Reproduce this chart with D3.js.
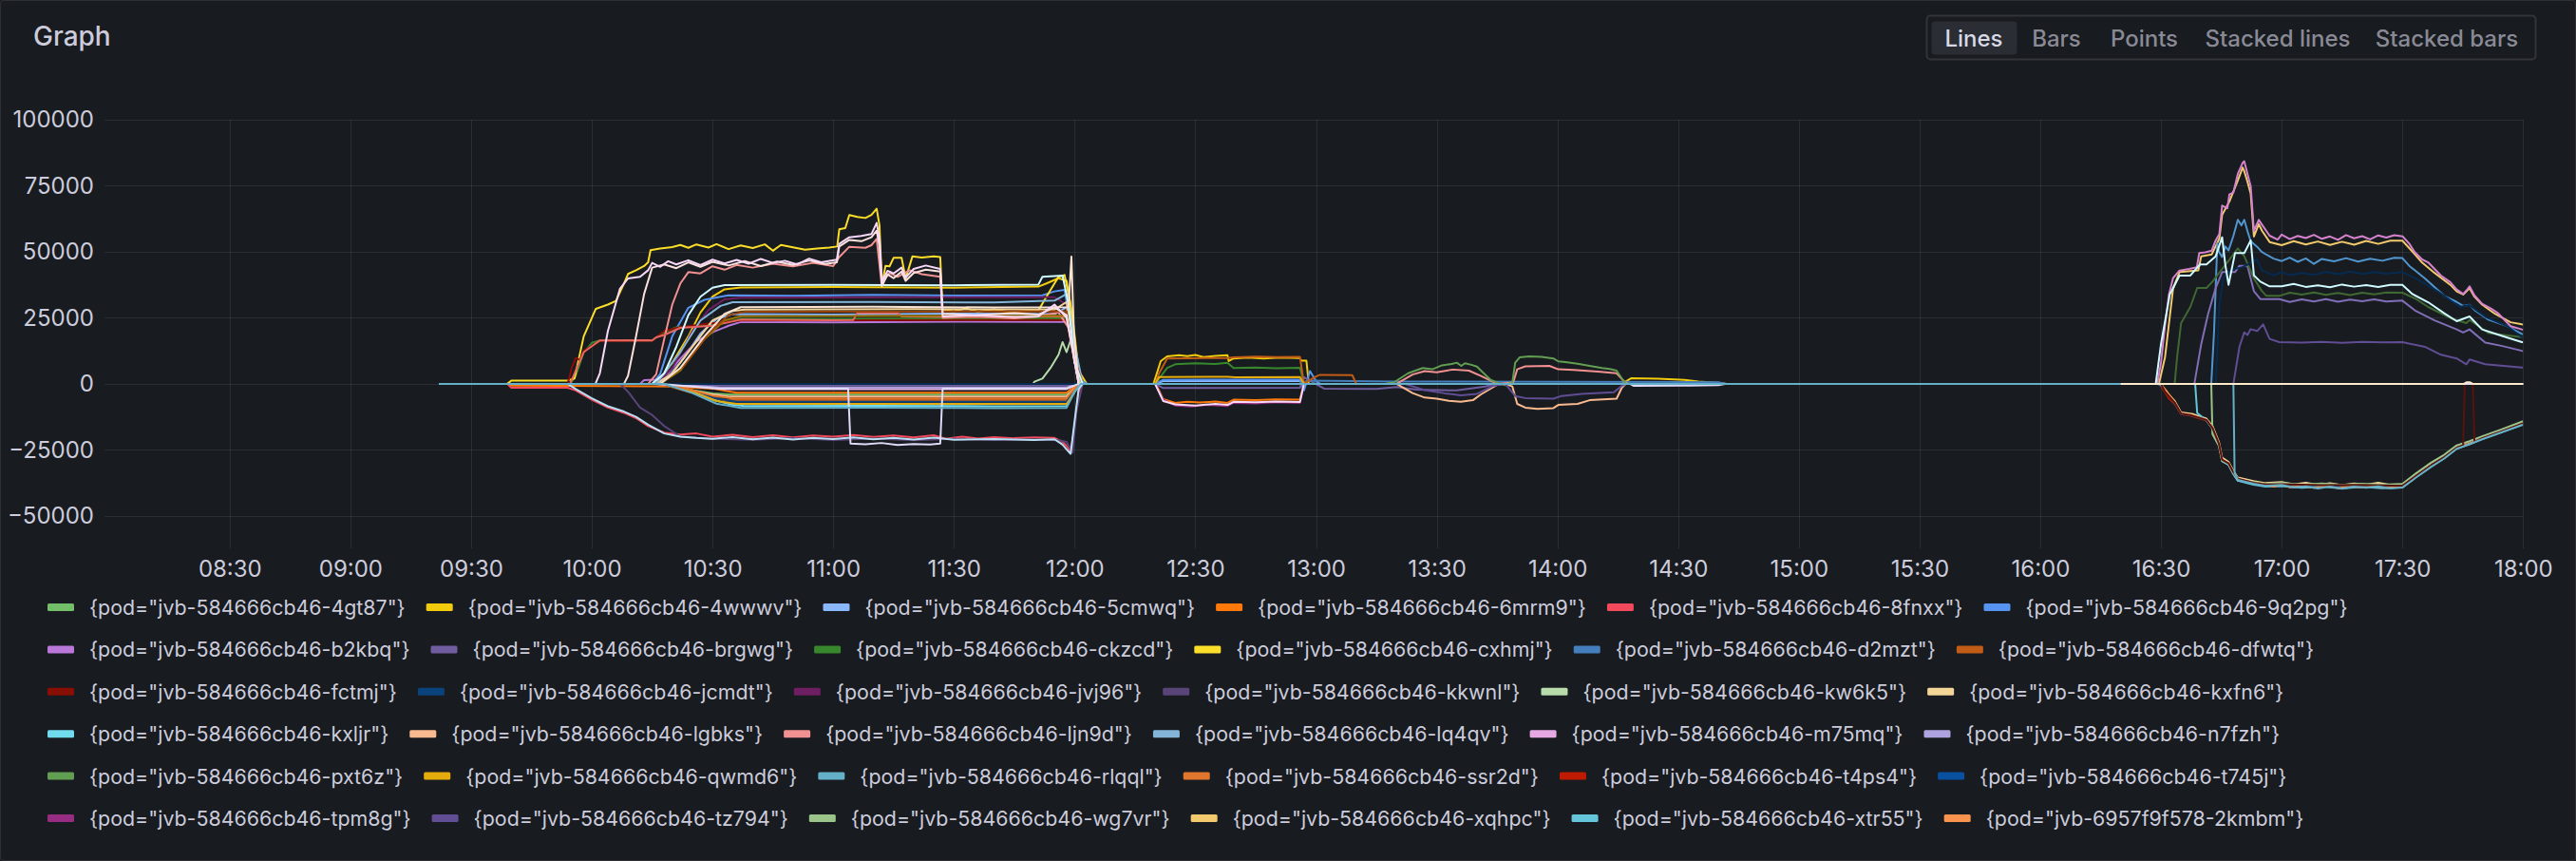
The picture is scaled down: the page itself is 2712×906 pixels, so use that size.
<!DOCTYPE html>
<html><head><meta charset="utf-8">
<script src="https://cdn.jsdelivr.net/npm/d3@7/dist/d3.min.js"></script>
<style>
html,body{margin:0;padding:0;background:#181b1f;overflow:hidden;}
svg{display:block;font-family:Inter,"Noto Sans",sans-serif;}
</style></head><body>
<svg id="chart" width="2712" height="906"></svg>
<script>
// ---------- labels / ticks ----------
const panelTitle = "Graph";
const viewModes = ["Lines","Bars","Points","Stacked lines","Stacked bars"];
const xTickLabels = ["08:30","09:00","09:30","10:00","10:30","11:00","11:30","12:00","12:30","13:00","13:30","14:00","14:30","15:00","15:30","16:00","16:30","17:00","17:30","18:00"];
const yTickValues = [-50000,-25000,0,25000,50000,75000,100000];
const timeDomain = ["7:59","18:00"];
const valueDomain = [-62300,100000];

const legendPods = ["jvb-584666cb46-4gt87","jvb-584666cb46-4wwwv","jvb-584666cb46-5cmwq","jvb-584666cb46-6mrm9","jvb-584666cb46-8fnxx","jvb-584666cb46-9q2pg",
"jvb-584666cb46-b2kbq","jvb-584666cb46-brgwg","jvb-584666cb46-ckzcd","jvb-584666cb46-cxhmj","jvb-584666cb46-d2mzt","jvb-584666cb46-dfwtq",
"jvb-584666cb46-fctmj","jvb-584666cb46-jcmdt","jvb-584666cb46-jvj96","jvb-584666cb46-kkwnl","jvb-584666cb46-kw6k5","jvb-584666cb46-kxfn6",
"jvb-584666cb46-kxljr","jvb-584666cb46-lgbks","jvb-584666cb46-ljn9d","jvb-584666cb46-lq4qv","jvb-584666cb46-m75mq","jvb-584666cb46-n7fzh",
"jvb-584666cb46-pxt6z","jvb-584666cb46-qwmd6","jvb-584666cb46-rlqql","jvb-584666cb46-ssr2d","jvb-584666cb46-t4ps4","jvb-584666cb46-t745j",
"jvb-584666cb46-tpm8g","jvb-584666cb46-tz794","jvb-584666cb46-wg7vr","jvb-584666cb46-xqhpc","jvb-584666cb46-xtr55","jvb-6957f9f578-2kmbm"];

// ---------- style palette (Grafana classic) ----------
const palette = ["#73BF69","#F2CC0C","#8AB8FF","#FF780A","#F2495C","#5794F2","#B877D9","#705DA0","#37872D","#FADE2A","#447EBC","#C15C17",
"#890F02","#0A437C","#6D1F62","#584477","#B7DBAB","#F4D598","#70DBED","#F9BA8F","#F29191","#82B5D8","#E5A8E2","#AEA2E0",
"#629E51","#E5AC0E","#64B0C8","#E0752D","#BF1B00","#0A50A1","#962D82","#614D93","#9AC48A","#F2C96D","#65C5DB","#F9934E",
"#EA6460","#5195CE","#D683CE","#806EB7","#3F6833","#967302","#2F575E","#99440A","#58140C","#052B51","#511749","#3F2B5B",
"#E0F9D7","#FCEACA","#CFFAFF","#F9E2D2","#FCE2DE","#BADFF4","#F9D9F9","#DEDAF7"];

// ---------- series values: [time, value] ----------
const pod_4gt87 = [["9:22",0],["10:16",0],["10:20",-900],["10:25",-2400],["10:30",-3600],["10:35",-4100],["11:58",-4100],["11:59.5",-2500],["12:01",0],["18:00",0]];
const pod_4wwwv = [["9:22",0],["10:16",0],["10:20",8000],["10:24",18000],["10:27",27000],["10:30",33000],["10:33",35800],["10:37",36500],["11:00",36700],["11:30",36400],["11:51",36800],["11:53",38000],["11:56",40000],["11:58",39000],["11:59.5",25000],["12:01",5000],["12:03",0],["12:19.6",0],["12:21.4",8600],["12:23",10400],["12:26",10800],["12:28",10500],["12:30",10900],["12:32",10100],["12:35",10600],["12:38",10800],["12:38.3",8600],["12:39.5",9600],["12:43",9900],["12:47",9600],["12:51",9900],["12:55.8",9800],["12:56.4",8800],["12:57.6",8800],["12:58.2",0],["14:16",0],["14:18.3",2100],["14:25",1900],["14:31.6",1500],["14:35",900],["14:40.6",300],["14:42",0],["18:00",0]];
const pod_5cmwq = [["9:22",0],["10:16",0],["10:19",2500],["10:23",10000],["10:27",19000],["10:31",24500],["10:35",26400],["11:00",26200],["11:30",26600],["11:55",26400],["11:58",29000],["12:00",9000],["12:02",0],["12:20",0],["12:22",1000],["12:56",1100],["12:57",0],["18:00",0]];
const pod_6mrm9 = [["9:22",0],["9:39",0],["9:40",-700],["10:15",-900],["10:20",-1000],["10:30",-1800],["10:36",-3400],["11:58",-3400],["11:59.5",-1500],["12:01",0],["12:20",0],["12:21",-2500],["12:22",-5800],["12:25",-7200],["12:28",-6800],["12:31",-7100],["12:35",-6700],["12:38",-7200],["12:39.5",-6000],["12:45",-6200],["12:50",-5900],["12:56",-6000],["12:57",0],["18:00",0]];
const pod_8fnxx = [["9:22",0],["9:39",0],["9:40",-1500],["9:54",-1500],["9:56",-2500],["10:00",-6000],["10:04",-9000],["10:08",-11000],["10:11",-13000],["10:14",-16000],["10:18",-18500],["10:22",-19200],["10:26",-18800],["10:30",-20000],["10:35",-19300],["10:40",-20200],["10:45",-19500],["10:50",-20300],["10:55",-19600],["11:00",-20000],["11:05",-19400],["11:10",-20100],["11:15",-19600],["11:20",-20300],["11:25",-19500],["11:28",-20800],["11:32",-20000],["11:36",-20700],["11:40",-20200],["11:45",-20600],["11:50",-20300],["11:55",-20500],["11:57",-22000],["11:58",-23500],["11:59",-25800],["12:00",-16000],["12:01",-3000],["12:02",0],["18:00",0]];
const pod_9q2pg = [["9:22",0],["10:15",0],["10:17",3800],["10:20",18000],["10:24",28800],["10:28",31800],["10:32",33000],["10:34",33500],["10:50",33300],["11:10",33700],["11:30",33400],["11:52",33500],["11:55",35000],["11:57.5",35600],["11:59",22000],["12:01",2000],["12:03",0],["12:20",0],["12:22",1500],["12:56",1600],["12:57",-2500],["12:58.5",4800],["13:00",1000],["13:01",0],["18:00",0]];
const pod_b2kbq = [["9:22",0],["10:12",0],["10:13",1400],["10:16",1600],["10:19",4000],["10:22",9500],["10:26",16000],["10:30",19500],["10:34",22000],["10:37",23400],["11:00",23300],["11:30",23500],["11:58",23400],["11:59",21000],["12:01",0],["18:00",0]];
const pod_brgwg = [["9:22",0],["10:16",0],["10:25",-600],["11:58",-600],["12:01",0],["12:20",0],["12:22",-1600],["12:56",-1500],["12:57",2500],["12:58.5",1200],["13:02",-1800],["13:15",-1900],["13:20",-1200],["13:25",-2200],["13:35",-2500],["13:42",-1000],["13:45",0],["18:00",0]];
const pod_ckzcd = [["9:22",0],["9:54.6",0],["9:56",3000],["9:58",12000],["10:00",15500],["10:02",16400],["10:15",16400],["10:16",17600],["10:18",19500],["10:21",21400],["10:25",21800],["10:30",22200],["10:37",24600],["11:00",24500],["11:30",24800],["11:58",24800],["12:00",10000],["12:02",0],["12:20",0],["12:23",6000],["12:25",7400],["12:30",7800],["12:35",7500],["12:38",8000],["12:39.5",6000],["12:45",6200],["12:50",5900],["12:56",6100],["12:57",0],["18:00",0]];
const pod_cxhmj = [["9:22",0],["9:39",0],["9:40",1200],["9:54",1200],["9:55.7",2000],["9:58",18000],["10:01",28400],["10:04",30000],["10:06",31400],["10:08",38000],["10:09",41600],["10:11",43000],["10:13",44600],["10:14",46000],["10:14.6",50600],["10:17",51200],["10:20",51800],["10:22",52600],["10:24",51500],["10:26",52800],["10:29",51600],["10:31",52900],["10:34",51000],["10:37",52400],["10:40",51400],["10:43",52800],["10:45",50400],["10:47",52600],["10:50",51700],["10:53",50800],["10:56",51200],["10:59",51600],["11:01",52000],["11:01.5",58500],["11:03",59000],["11:04",63900],["11:06",63200],["11:08",62800],["11:09.5",64000],["11:10.8",66300],["11:11.5",60000],["11:12.1",37500],["11:13",44700],["11:14",44500],["11:15",47700],["11:17",47700],["11:18",39900],["11:19.7",48300],["11:22",47800],["11:25",48300],["11:26.6",48000],["11:27.2",27900],["11:30",27500],["11:33",28600],["11:36",27300],["11:40",28200],["11:44",27000],["11:48",27600],["11:51",27800],["11:53",33000],["11:56",40500],["11:57.5",41200],["11:59",30000],["12:00",10000],["12:01.5",0],["18:00",0]];
const pod_d2mzt = [["9:22",0],["12:56",0],["12:58",1200],["13:20",900],["14:00",800],["14:40",600],["14:42",0],["18:00",0]];
const pod_dfwtq = [["9:22",0],["10:17",0],["10:24",-3000],["10:33",-6200],["11:58",-6200],["12:01",0],["12:20",0],["12:21",4000],["12:23",9600],["12:38",9800],["12:39.5",10000],["12:45",10300],["12:50",10100],["12:56",10200],["12:57",0],["12:58",1000],["13:00",2800],["13:01",3400],["13:09",3300],["13:10",0],["18:00",0]];
const pod_fctmj = [["9:22",0],["9:54",0],["9:55",6000],["9:56",9800],["9:57",9000],["9:58",12500],["10:02",16200],["10:15",16300],["10:18",20000],["10:22",21500],["10:30",23000],["10:37",24000],["11:58",24200],["12:00",8000],["12:02",0],["18:00",0]];
const pod_jcmdt = [["9:22",0],["10:17",0],["10:24",-2500],["10:31",-5500],["10:36",-6800],["11:58",-6800],["12:01",0],["18:00",0]];
const pod_jvj96 = [["9:22",0],["10:16",0],["10:20",6000],["10:25",20000],["10:29",28000],["10:33",32000],["10:37",32600],["11:20",32800],["11:55",32800],["11:58",30000],["12:01",0],["18:00",0]];
const pod_kkwnl = [["9:22",0],["10:07",0],["10:09",-3000],["10:12",-9000],["10:15",-11800],["10:18",-16000],["10:22",-20000],["10:30",-20800],["10:40",-21200],["10:50",-20600],["11:00",-21300],["11:10",-20700],["11:20",-21400],["11:30",-20800],["11:40",-21300],["11:50",-21000],["11:56",-21400],["11:58",-22000],["11:59.5",-26000],["12:00.5",-10000],["12:02",0],["18:00",0]];
const pod_kw6k5 = [["9:22",0],["11:49.7",0],["11:50",800],["11:52",2000],["11:54",6000],["11:56",11000],["11:57",15800],["11:58",12000],["11:59",16500],["11:59.5",14000],["12:00.5",4000],["12:01.5",0],["18:00",0]];
const pod_kxfn6 = [["9:22",0],["10:16",0],["10:20",4000],["10:25",14000],["10:30",24000],["10:35",27600],["10:38",28100],["11:20",28300],["11:55",28100],["11:58",31000],["12:00",8000],["12:02",0],["16:30",0],["16:31",-2500],["16:33.4",-6500],["16:35",-10800],["16:38",-11500],["16:41.3",-13200],["16:42.8",-16000],["16:44.4",-22000],["16:45.2",-28000],["16:46.8",-29600],["16:48",-33000],["16:49.1",-35500],["16:53",-36800],["16:56",-37600],["17:00",-37200],["17:03",-38100],["17:06",-37500],["17:09",-38300],["17:12",-37600],["17:15",-38400],["17:18",-37700],["17:21",-38200],["17:24",-37500],["17:27",-38300],["17:30",-38000],["17:33.3",-34400],["17:37.2",-30000],["17:40.4",-27200],["17:43.5",-23600],["17:46.7",-22000],["17:49.8",-20200],["17:54.6",-17600],["17:59.7",-14600],["18:00",-14600]];
const pod_kxljr = [["9:22",0],["10:18",0],["10:24",-2500],["10:30",-6000],["10:35",-8000],["10:38",-8400],["11:10",-8300],["11:40",-8500],["11:58",-8400],["12:00",-3000],["12:01.5",0],["18:00",0]];
const pod_lgbks = [["9:22",0],["10:17",0],["10:22",-1500],["10:29",-3800],["10:34",-4800],["11:58",-4800],["12:01",0],["13:20",0],["13:24",-3500],["13:27",-5200],["13:30",-5600],["13:33",-6400],["13:36",-6800],["13:39",-6200],["13:41",-4000],["13:45",-400],["13:47",0],["13:48.8",-1000],["13:50",-7600],["13:52",-9000],["13:55",-9500],["13:59",-9200],["14:00.2",-8000],["14:05",-7600],["14:08",-6200],["14:14.7",-5600],["14:16",-1500],["14:17",0],["18:00",0]];
const pod_ljn9d = [["9:22",0],["10:14",0],["10:16",3600],["10:18",17000],["10:20",30000],["10:22",38000],["10:24",42300],["10:27",41800],["10:30",44500],["10:33",43200],["10:36",45000],["10:40",44000],["10:45",45500],["10:50",44500],["10:55",45800],["11:00",44600],["11:01.5",48000],["11:04",51900],["11:08",51500],["11:09.5",52500],["11:10.8",54900],["11:12",38000],["11:14",42000],["11:16",40500],["11:19",43000],["11:22",41500],["11:26.6",40500],["11:27.2",25000],["11:35",25400],["11:45",24800],["11:51",25500],["11:56",27000],["11:59",20000],["12:01",0],["13:20",0],["13:24",3500],["13:27",4800],["13:30",4400],["13:34",5400],["13:38",5000],["13:41",3000],["13:45",0],["13:49",500],["13:50",5500],["13:52",6600],["13:58",6800],["14:00.2",5500],["14:04",5300],["14:10",4600],["14:14.7",4000],["14:16.5",1000],["14:17.5",0],["18:00",0]];
const pod_lq4qv = [["9:22",0],["10:16",0],["10:22",12000],["10:27",24000],["10:32",29500],["10:35",30900],["11:10",31000],["11:40",30800],["11:55",31500],["11:58",34000],["12:00",15000],["12:02",0],["18:00",0]];
const pod_m75mq = [["9:22",0],["10:16",0],["10:25",-1000],["10:33",-2000],["11:58",-2000],["12:01",0],["18:00",0]];
const pod_n7fzh = [["9:22",0],["10:15",0],["10:25",-800],["10:32",-1400],["11:58",-1400],["12:01",0],["18:00",0]];
const pod_pxt6z = [["9:22",0],["13:17",0],["13:19.3",500],["13:22.9",4000],["13:26.5",6000],["13:28.9",5500],["13:31.3",7000],["13:33.7",7500],["13:35",8000],["13:36.1",6800],["13:37",7800],["13:38.6",7200],["13:40",6500],["13:41",5000],["13:43.4",1500],["13:45.8",0],["13:47",-500],["13:48.8",500],["13:49.5",8000],["13:50.6",10000],["13:53",10400],["13:56",10200],["13:59",9600],["14:00.2",8500],["14:02",8200],["14:05",7600],["14:08",6800],["14:11.1",6000],["14:13",5600],["14:14.7",5000],["14:16",2000],["14:17.1",0],["18:00",0]];
const pod_qwmd6 = [["9:22",0],["10:18",0],["10:25",-3000],["10:31",-6500],["10:36",-7600],["11:58",-7600],["12:00.5",-2000],["12:01.5",0],["12:20",0],["12:21",2600],["12:38",2700],["12:40",2500],["12:56",2600],["12:57",0],["18:00",0]];
const pod_rlqql = [["9:22",0],["10:18",0],["10:25",-3500],["10:31",-7500],["10:37",-9100],["11:10",-9000],["11:40",-9200],["11:58",-9100],["12:00",-3000],["12:01.5",0],["16:48",0],["16:48.3",-33800],["16:49.1",-36400],["16:53",-37800],["16:56",-38600],["17:00",-38300],["17:03",-39300],["17:06",-38800],["17:09",-39600],["17:12",-38900],["17:15",-39700],["17:18",-38900],["17:21",-39400],["17:24",-38800],["17:27",-39600],["17:30",-39300],["17:33.3",-35600],["17:37.2",-31400],["17:40.4",-28300],["17:43.5",-24600],["17:46.7",-22900],["17:49.8",-21000],["17:54.6",-18400],["17:59.7",-15600],["18:00",-15600]];
const pod_ssr2d = [["9:22",0],["10:17",0],["10:24",-2000],["10:30",-4500],["10:35",-5500],["11:58",-5500],["12:01",0],["18:00",0]];
const pod_t4ps4 = [["9:22",0],["16:29.5",0],["16:30.5",-2000],["16:32",-5500],["16:33.4",-7600],["16:35",-11500],["16:37.3",-12000],["16:39",-12800],["16:41.3",-13900],["16:42.8",-16900],["16:44.4",-23000],["16:45.2",-29000],["16:46.8",-30400],["16:48",-33900],["16:49.1",-36200],["16:53",-37400],["16:56",-38000],["17:00",-37900],["17:05",-38500],["17:10",-38100],["17:15",-38800],["17:20",-38200],["17:25",-38700],["17:30",-38400],["17:33.3",-34800],["17:37.2",-30600],["17:40.4",-27600],["17:43.5",-24000],["17:46.7",-22300],["17:49.8",-20500],["17:54.6",-17900],["17:59.7",-15000],["18:00",-15000]];
const pod_t745j = [["9:22",0],["16:29",0],["16:30.2",-1000],["16:31.5",-3500],["16:33.4",-7300],["16:35",-11400],["16:37.3",-11900],["16:39",-12600],["16:41.3",-13800],["16:42.8",-16800],["16:44.4",-22800],["16:45.2",-28900],["16:46.8",-30200],["16:48",-33700],["16:49.1",-36100],["16:53",-37800],["16:56",-38500],["17:00",-38300],["17:05",-38900],["17:10",-38400],["17:15",-39100],["17:20",-38600],["17:25",-39000],["17:30",-38700],["17:33.3",-35000],["17:37.2",-30800],["17:40.4",-27800],["17:43.5",-24200],["17:46.7",-22500],["17:49.8",-20700],["17:54.6",-18100],["17:59.7",-15200],["18:00",-15200]];
const pod_tpm8g = [["9:22",0],["12:20",0],["12:22",-6000],["12:25",-8200],["12:29",-8600],["12:33",-8000],["12:38",-8400],["12:39.5",-7200],["12:45",-7400],["12:50",-7000],["12:56",-7200],["12:57",0],["18:00",0]];
const pod_tz794 = [["9:22",0],["13:22",0],["13:27",-2400],["13:32",-3600],["13:36",-4400],["13:40",-3800],["13:44",-800],["13:47",0],["13:49.5",-4600],["13:52",-5400],["13:59",-5600],["14:01",-4600],["14:06",-3800],["14:14",-3200],["14:16",-800],["14:17",0],["16:48",0],["16:49.5",14000],["16:50.7",19500],["16:51.5",18500],["16:52.3",20700],["16:53.9",20000],["16:55.4",22500],["16:57",17000],["16:59.4",15800],["17:05",15600],["17:10",15900],["17:15",15500],["17:20",15900],["17:25",15700],["17:30",15800],["17:35.6",14000],["17:39.6",11000],["17:43.5",9600],["17:45.9",7400],["17:46.7",9200],["17:50.6",7400],["17:59.7",6200],["18:00",6200]];
const pod_wg7vr = [["9:22",0],["16:42.5",0],["16:42.8",-19000],["16:44.4",-23500],["16:45.2",-29300],["16:46.8",-30600],["16:48",-34000],["16:49.1",-36600],["16:53",-37200],["16:56",-37900],["17:00",-37500],["17:05",-38200],["17:10",-37700],["17:15",-38300],["17:20",-37800],["17:25",-38200],["17:30",-37900],["17:33.3",-34000],["17:37.2",-29800],["17:40.4",-26900],["17:43.5",-23300],["17:46.7",-21700],["17:49.8",-19900],["17:54.6",-17300],["17:59.7",-14300],["18:00",-14300]];
const pod_xqhpc = [["9:22",0],["16:29.5",0],["16:31",10000],["16:33",36000],["16:34.6",42300],["16:39.3",43000],["16:40",48300],["16:42.6",49000],["16:44.5",55000],["16:45.2",64000],["16:47",69000],["16:49.1",77000],["16:50.3",81900],["16:50.7",80500],["16:51.5",76500],["16:52.3",72000],["16:53.1",55800],["16:54.3",60500],["16:55.1",58000],["16:57",53700],["17:00",52500],["17:03",54000],["17:06",52800],["17:09",53900],["17:12",52600],["17:15",53800],["17:18",52700],["17:21",54100],["17:24",53000],["17:27",54200],["17:30",54200],["17:31.7",51400],["17:34.9",45900],["17:38",42000],["17:41.9",37500],["17:43.5",35000],["17:45.1",33800],["17:46.7",36200],["17:47.9",33000],["17:49.8",30000],["17:53",26500],["17:56.9",23300],["17:59.7",22500],["18:00",22400]];
const pod_xtr55 = [["9:22",0],["16:38.5",0],["16:39",-11000],["16:41.3",-13900],["16:42.8",-17000],["16:44.4",-23200],["16:45.2",-29200],["16:46.8",-30700],["16:48",-34200],["16:49.1",-36700],["16:53",-38200],["16:56",-38900],["17:00",-38700],["17:05",-39400],["17:10",-38900],["17:15",-39600],["17:20",-39000],["17:25",-39500],["17:30",-39200],["17:33.3",-35400],["17:37.2",-31200],["17:40.4",-28200],["17:43.5",-24500],["17:46.7",-22800],["17:49.8",-20900],["17:54.6",-18300],["17:59.7",-15500],["18:00",-15500]];
const pod_2kmbm = [["9:22",0],["16:29.5",0],["16:30.2",-600],["16:31.5",-3000],["16:33.4",-7000],["16:35",-11200],["16:37.3",-11700],["16:39",-12500],["16:41.3",-13600],["16:42.8",-16600],["16:44.4",-22600],["16:45.2",-28800],["16:46.8",-30000],["16:48",-33600],["16:49.1",-36000],["16:53",-37600],["16:56",-38200],["16:58",-38900],["17:00",-38000],["17:02",-39200],["17:05",-38700],["17:08",-39400],["17:11",-38600],["17:14",-39500],["17:17",-38800],["17:20",-39300],["17:23",-38700],["17:26",-39400],["17:29",-39200],["17:30.1",-39000],["17:33.3",-35200],["17:37.2",-31000],["17:40.4",-28000],["17:43.5",-24300],["17:46.7",-22600],["17:49.8",-20800],["17:54.6",-18200],["17:59.7",-15300],["18:00",-15300]];
// series further down the (scrolled) legend
const pod_h36 = [["9:22",0],["9:54.6",0],["9:56",5000],["9:58",12000],["10:02",16400],["10:14",16500],["10:15",16400],["10:16",17600],["10:18",18500],["10:22",21200],["10:30",22000],["10:37",24300],["11:00",24100],["11:05",24200],["11:06",26900],["11:16",26900],["11:17",25500],["11:40",25300],["11:58",25600],["12:00",9000],["12:02",0],["18:00",0]];
const pod_h37 = [["9:22",0],["16:42.5",0],["16:43.2",20000],["16:44",53100],["16:44.4",50000],["16:45.2",48000],["16:46",52000],["16:46.8",50500],["16:48",56000],["16:49.1",62100],["16:50",60000],["16:50.7",62100],["16:51.5",57800],["16:52.3",54000],["16:53.9",51900],["16:55",50000],["16:56.2",48900],["16:58",47400],["17:00",46500],["17:02",47800],["17:04",46200],["17:06",47500],["17:08",45400],["17:10",47300],["17:13",46400],["17:16",47600],["17:19",46300],["17:22",47400],["17:25",46600],["17:28",47700],["17:30",47600],["17:31.7",44700],["17:35.6",39900],["17:40.4",33300],["17:43.5",31000],["17:45.1",29500],["17:46.7",29900],["17:47.9",28000],["17:51.4",24300],["17:56.1",21800],["17:59.7",18900],["18:00",18800]];
const pod_h38 = [["9:22",0],["16:29.1",0],["16:30",8000],["16:31",22000],["16:32",34000],["16:33",40000],["16:34.6",42900],["16:37",43500],["16:38.9",44100],["16:39.5",49500],["16:41",49800],["16:42.6",50400],["16:43.5",54000],["16:44.5",56700],["16:45.2",67500],["16:46.5",66500],["16:47",71700],["16:48",72500],["16:49.1",79500],["16:50.3",83700],["16:50.7",84300],["16:51.5",79500],["16:52.3",74800],["16:53.1",57900],["16:54.3",62100],["16:55.1",60300],["16:57",56100],["16:59",54600],["17:00",56500],["17:02",54800],["17:04",56000],["17:06",55200],["17:08",56400],["17:10",54900],["17:12",55800],["17:14",54500],["17:16",56300],["17:18",55100],["17:20",55900],["17:22",54700],["17:24",56200],["17:26",55400],["17:28",56300],["17:30.1",55800],["17:31.7",53100],["17:33",50000],["17:34.9",47100],["17:36.4",46000],["17:38",43500],["17:39.6",41000],["17:41.9",38500],["17:43.5",35700],["17:45.1",34000],["17:46",35500],["17:46.7",36900],["17:47.9",33500],["17:49.8",30300],["17:52",28500],["17:53.8",26700],["17:56.9",21800],["17:59.7",20600],["18:00",20500]];
const pod_h39 = [["9:22",0],["16:38.3",0],["16:40",15000],["16:41.7",26400],["16:43.6",36300],["16:45.2",42300],["16:48.4",42300],["16:49.5",44700],["16:51.5",44700],["16:53.1",35100],["16:54.7",32100],["16:59.4",32100],["17:02",31000],["17:05",32000],["17:08",31200],["17:11",32100],["17:14",31100],["17:17",31900],["17:20",31300],["17:23",32000],["17:26",31200],["17:30",31500],["17:33.3",27600],["17:38",24000],["17:43.5",20600],["17:45.1",19400],["17:46.7",20600],["17:50.6",15600],["17:54.6",14400],["17:59.7",12500],["18:00",12400]];
const pod_h40 = [["9:22",0],["16:33.4",0],["16:34",10000],["16:35",23000],["16:37.3",29100],["16:39",36300],["16:41.3",36300],["16:42.8",38700],["16:45.2",43500],["16:47",47000],["16:49.1",51300],["16:50.7",48300],["16:53.1",39900],["16:55.1",35100],["16:56.2",33300],["16:59.4",33300],["17:02",34500],["17:05",33800],["17:08",34600],["17:11",33700],["17:14",34400],["17:17",33600],["17:20",34500],["17:23",33900],["17:26",34600],["17:30",34500],["17:33.3",32200],["17:36.4",29100],["17:41.9",24900],["17:45.9",23000],["17:46.7",24200],["17:51.4",19200],["17:59.7",17700],["18:00",17600]];
const pod_h41 = [["9:22",0],["10:17",0],["10:22",5000],["10:28",17000],["10:33",24000],["10:37",25600],["11:58",25800],["12:00",8000],["12:02",0],["18:00",0]];
const pod_h43 = [["9:22",0],["10:17",0],["10:23",7000],["10:29",19000],["10:34",26000],["10:38",27300],["11:58",27500],["12:00",9000],["12:02",0],["18:00",0]];
const pod_h44 = [["9:22",0],["16:30",0],["16:31",-3000],["16:33.4",-7100],["16:35",-11300],["16:37.3",-11800],["16:39",-12600],["16:41.3",-13700],["16:42.8",-16700],["16:44.4",-22700],["16:45.2",-28700],["16:46.8",-30100],["16:48",-33500],["16:49.1",-35900],["16:53",-37500],["16:56",-38100],["17:00",-38000],["17:10",-38400],["17:20",-38300],["17:30",-38600],["17:33.3",-35000],["17:37.2",-30800],["17:40.4",-27800],["17:43.5",-24200],["17:45.1",-23200],["17:45.5",0],["17:47.5",0],["17:47.9",-22100],["17:49.8",-20600],["17:54.6",-18000],["17:59.7",-15100],["18:00",-15100]];
const pod_h45 = [["9:22",0],["16:43.6",0],["16:44.5",30000],["16:45.5",40000],["16:46.8",42300],["16:48",43500],["16:50",44000],["16:52",45500],["16:53.9",47100],["16:55.1",42900],["16:56.2",42200],["16:58",41000],["17:00",42300],["17:02",41200],["17:05",42000],["17:08",41300],["17:11",42400],["17:14",41500],["17:17",42500],["17:20",41600],["17:23",42300],["17:26",41700],["17:30",42300],["17:34.1",39200],["17:38.8",35000],["17:44.3",29100],["17:46.7",29800],["17:50.6",25400],["17:56.1",21800],["17:59.7",17700],["18:00",17600]];
const pod_h49 = [["16:20",0],["17:45.3",0],["17:46",600],["17:46.7",600],["17:47.5",0],["18:00",0]];
const pod_h50 = [["9:22",0],["10:15",0],["10:18",4000],["10:21",14000],["10:24",26000],["10:27",33000],["10:30",36400],["10:33",37400],["11:00",37500],["11:30",37300],["11:51",37600],["11:52",40500],["11:57",41000],["11:58.5",30000],["12:00",8000],["12:02",0],["16:28.7",0],["16:30",15000],["16:32.2",33900],["16:34.6",41000],["16:37.3",41000],["16:39.7",45200],["16:41.3",45200],["16:43.6",48300],["16:45.2",55500],["16:46",45000],["16:46.8",37500],["16:48.4",49500],["16:50.7",49500],["16:52.3",54300],["16:53.1",41100],["16:54.7",38700],["16:57",36900],["17:00",36900],["17:03",37800],["17:06",36700],["17:09",37300],["17:12",36600],["17:15",37600],["17:18",36800],["17:21",37400],["17:24",36700],["17:27",37500],["17:30",37500],["17:32.5",34000],["17:36.4",30900],["17:40.4",26700],["17:43.5",23700],["17:46.7",25500],["17:49.8",20600],["17:54.6",18200],["17:59.7",15800],["18:00",15800]];
const pod_h51 = [["9:22",0],["10:17",0],["10:22",6000],["10:28",18000],["10:33",26500],["10:37",29000],["11:10",29200],["11:40",28900],["11:58.5",29000],["11:59.2",48200],["11:59.8",20000],["12:01",0],["18:00",0]];
const pod_h52 = [["9:22",0],["10:08",0],["10:09",3000],["10:11",18000],["10:13",34000],["10:15",44000],["10:18",45200],["10:21",43800],["10:24",46000],["10:27",44300],["10:30",46200],["10:34",44800],["10:38",46500],["10:42",44600],["10:46",46300],["10:50",45000],["10:54",46700],["10:58",45400],["11:00.9",46000],["11:01.5",52000],["11:04",54500],["11:07",54000],["11:09.5",55500],["11:10.8",58000],["11:11.5",52000],["11:12.1",37000],["11:13.5",41500],["11:15",40000],["11:17",42500],["11:18",39000],["11:20",42000],["11:23",43200],["11:26.6",42500],["11:27.2",26500],["11:35",26000],["11:45",26800],["11:51",26200],["11:55",29000],["11:58",26000],["12:01",0],["18:00",0]];
const pod_h53 = [["9:22",0],["9:54",0],["9:56",-2000],["10:00",-5500],["10:04",-8500],["10:08",-10500],["10:11",-12500],["10:14",-15500],["10:18",-18800],["10:22",-20000],["10:26",-20500],["10:30",-20800],["10:35",-20200],["10:40",-21000],["10:45",-20400],["10:50",-21100],["10:55",-20500],["11:00",-20900],["11:05",-20300],["11:10",-21000],["11:15",-20500],["11:20",-21100],["11:25",-20400],["11:30",-21200],["11:40",-20900],["11:50",-21300],["11:55",-21000],["11:57",-23000],["11:58",-24800],["11:59",-26500],["12:00",-14000],["12:01",-2000],["12:02",0],["18:00",0]];
const pod_h54 = [["9:22",0],["10:00.9",0],["10:02",4000],["10:04",20000],["10:07",36000],["10:09",39900],["10:12",40500],["10:14",43000],["10:15",45800],["10:17",44300],["10:19",46400],["10:21",45200],["10:24",46800],["10:27",45000],["10:30",47000],["10:33",45600],["10:36",46900],["10:39",45500],["10:42",47300],["10:45",45800],["10:48",46600],["10:51",45200],["10:54",47400],["10:57",46000],["11:00.9",47000],["11:01.5",53000],["11:04",55500],["11:07",56000],["11:09.5",56700],["11:10.8",60900],["11:11.5",55000],["11:12.1",38700],["11:13.5",42800],["11:15",41800],["11:17",44000],["11:18",40200],["11:20",43500],["11:23",44800],["11:26.6",43500],["11:27.2",25500],["11:35",25900],["11:45",25300],["11:51",25500],["11:55",30000],["11:58",25000],["12:01",0],["12:20",0],["12:22",-6500],["12:25",-7800],["12:30",-8200],["12:35",-7600],["12:38",-8000],["12:39.5",-6800],["12:45",-7000],["12:50",-6700],["12:56",-6900],["12:57",0],["18:00",0]];
const pod_h55 = [["9:22",0],["10:17",0],["10:25",-1000],["10:32",-1800],["11:03.7",-1800],["11:04.3",-22600],["11:08",-22900],["11:12",-22400],["11:16",-23200],["11:20",-22800],["11:24",-23000],["11:26.6",-22600],["11:27.2",-1800],["11:58",-1800],["12:01",0],["14:18",0],["14:19",-800],["14:30",-700],["14:40",-500],["14:42",0],["18:00",0]];

// draw order: [values, palette index]
const drawOrder = [
 [pod_4gt87,0],[pod_4wwwv,1],[pod_5cmwq,2],[pod_6mrm9,3],[pod_8fnxx,4],[pod_9q2pg,5],[pod_b2kbq,6],[pod_brgwg,7],
 [pod_ckzcd,8],[pod_cxhmj,9],[pod_d2mzt,10],[pod_dfwtq,11],[pod_fctmj,12],[pod_jcmdt,13],[pod_jvj96,14],[pod_kkwnl,15],
 [pod_kw6k5,16],[pod_kxfn6,17],[pod_kxljr,18],[pod_lgbks,19],[pod_ljn9d,20],[pod_lq4qv,21],[pod_m75mq,22],[pod_n7fzh,23],
 [pod_pxt6z,24],[pod_qwmd6,25],[pod_ssr2d,27],[pod_t4ps4,28],[pod_t745j,29],[pod_tpm8g,30],[pod_tz794,31],
 [pod_wg7vr,32],[pod_xqhpc,33],[pod_xtr55,34],[pod_2kmbm,35],[pod_h36,36],[pod_h37,37],[pod_h38,38],[pod_h39,39],
 [pod_h40,40],[pod_h41,41],[pod_h43,43],[pod_h44,44],[pod_h45,45],[pod_h50,50],[pod_h51,51],[pod_h52,52],
 [pod_h53,53],[pod_h54,54],[pod_h55,55],[pod_rlqql,26],[pod_h49,49]
];

// ---------- drawing ----------
function t(s){ const p = s.split(':'); return new Date(2023,0,1,+p[0],0,0,Math.round(parseFloat(p[1])*60000)); }
const TEXT = "#ccccdc", TEXT2 = "rgba(204,204,220,0.65)", GRID = "rgba(204,204,220,0.1)";
const svg = d3.select("#chart");
const L = 110.5, R = 2656.3, T = 126, B = 577;
const x = d3.scaleTime().domain(timeDomain.map(t)).range([L,R]);
const y = d3.scaleLinear().domain(valueDomain).range([B,T]);

svg.append("rect").attr("x",0.5).attr("y",0.5).attr("width",2711).attr("height",905).attr("rx",3)
  .attr("fill","#181b1f").attr("stroke","rgba(204,204,220,0.12)");

svg.append("text").attr("x",35).attr("y",48).attr("fill",TEXT).attr("font-size",28).attr("font-weight",500).text(panelTitle);

// mode buttons
const btnCenters = [2078,2165,2257.5,2398,2576];
svg.append("rect").attr("x",2028.5).attr("y",16.5).attr("width",641).attr("height",46).attr("rx",4)
  .attr("fill","none").attr("stroke","rgba(204,204,220,0.15)").attr("stroke-width",2);
svg.append("rect").attr("x",2033.5).attr("y",22.5).attr("width",90).attr("height",35).attr("rx",4).attr("fill","#2a2d33");
svg.selectAll("text.mode").data(viewModes).join("text").attr("class","mode")
  .attr("x",(d,i)=>btnCenters[i]).attr("y",49).attr("text-anchor","middle").attr("font-size",24).attr("font-weight",500)
  .attr("fill",(d,i)=>i===0?"#d8d9e6":TEXT2).text(d=>d);

// grid
const xTicks = xTickLabels.map(s=>t(s));
const g = svg.append("g");
g.selectAll("line.hg").data(yTickValues).join("line").attr("class","hg")
  .attr("x1",L).attr("x2",R).attr("y1",d=>Math.round(y(d))+0.5).attr("y2",d=>Math.round(y(d))+0.5).attr("stroke",GRID);
g.selectAll("line.vg").data(xTicks).join("line").attr("class","vg")
  .attr("y1",T).attr("y2",B).attr("x1",d=>Math.round(x(d))+0.5).attr("x2",d=>Math.round(x(d))+0.5).attr("stroke",GRID);

// axes labels via d3 axes
const yAxis = d3.axisLeft(y).tickValues(yTickValues).tickFormat(d3.format("d")).tickSize(0).tickPadding(0);
const ya = svg.append("g").attr("transform","translate(99,0)").call(yAxis);
ya.select(".domain").remove();
ya.selectAll("text").attr("fill",TEXT).attr("font-size",24).attr("font-family","Inter, 'Noto Sans', sans-serif").attr("dy","0.32em");

const xAxis = d3.axisBottom(x).tickValues(xTicks).tickFormat(d3.timeFormat("%H:%M")).tickSize(0).tickPadding(0);
const xa = svg.append("g").attr("transform","translate(0,589)").call(xAxis);
xa.select(".domain").remove();
xa.selectAll("text").attr("fill",TEXT).attr("font-size",24).attr("font-family","Inter, 'Noto Sans', sans-serif").attr("dy","0.76em");

// lines
svg.append("clipPath").attr("id","clip").append("rect").attr("x",L).attr("y",T-2).attr("width",R-L).attr("height",B-T+2);
const line = d3.line().x(d=>x(t(d[0]))).y(d=>y(d[1]));
svg.append("g").attr("clip-path","url(#clip)").selectAll("path").data(drawOrder).join("path")
  .attr("d",d=>line(d[0])).attr("fill","none").attr("stroke",d=>palette[d[1]])
  .attr("stroke-width",2).attr("stroke-linejoin","round").attr("stroke-linecap","butt");

// legend (font sized so that an entry's text spans ~333px like the reference)
const lg = svg.append("g");
const probe = lg.append("text").attr("font-size",24).text('{pod="'+legendPods[0]+'"}');
const legendFont = Math.min(24, 24*333/probe.node().getComputedTextLength());
probe.remove();
const rowY0 = 639, rowGap = 44.4;
for (let r=0; r<6; r++){
  let cx = 50;
  const cy = rowY0 + r*rowGap;
  for (let c=0; c<6; c++){
    const i = r*6+c;
    lg.append("rect").attr("x",cx).attr("y",cy-4).attr("width",28).attr("height",8).attr("rx",1.5).attr("fill",palette[i]);
    const tx = lg.append("text").attr("x",cx+44).attr("y",cy+8).attr("fill",TEXT).attr("font-size",legendFont)
      .text('{pod="'+legendPods[i]+'"}');
    cx += 44 + tx.node().getComputedTextLength() + 22;
  }
}
</script></body></html>
